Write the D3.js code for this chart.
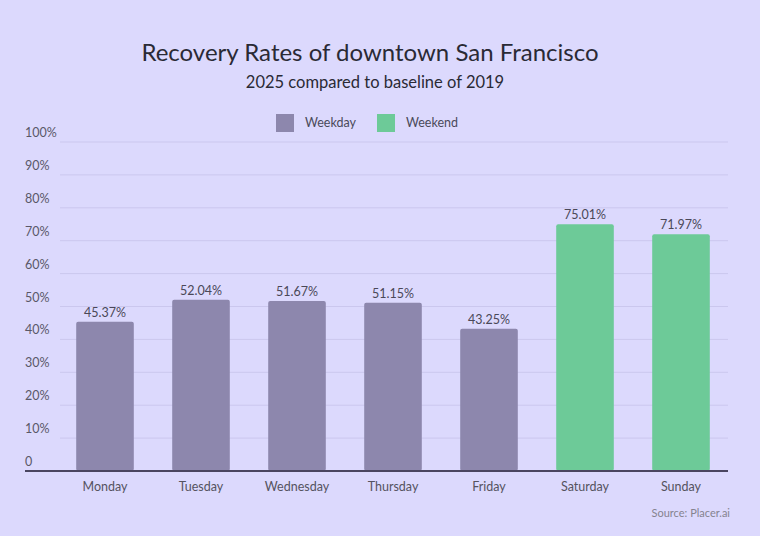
<!DOCTYPE html>
<html>
<head>
<meta charset="utf-8">
<script src="https://cdn.jsdelivr.net/npm/d3@7"></script>
<style>
  body { margin: 0; background: #dcd9fd; }
  text { font-family: Lato, "Open Sans", sans-serif; }
</style>
</head>
<body>
<div class="canvas"></div>
<script>
// data
const days = ["Monday", "Tuesday", "Wednesday", "Thursday", "Friday", "Saturday", "Sunday"];
const rates = [45.37, 52.04, 51.67, 51.15, 43.25, 75.01, 71.97];
const dayType = ["Weekday", "Weekday", "Weekday", "Weekday", "Weekday", "Weekend", "Weekend"];
const legendKeys = ["Weekday", "Weekend"];
const yTicks = [0, 10, 20, 30, 40, 50, 60, 70, 80, 90, 100];

const colors = { "Weekday": "#8d87ad", "Weekend": "#6dca98" };

var svg = d3.select(".canvas").append("svg").attr("width", 760).attr("height", 536);

svg.append("rect").attr("width", 760).attr("height", 536).attr("fill", "#dcd9fd");

const x = d3.scaleBand().domain(days).range([57, 729]).paddingInner(0.4).paddingOuter(0.2);
const y = d3.scaleLinear().domain([0, 100]).range([471, 142]);

// title
svg.append("text")
    .attr("x", 370).attr("y", 61)
    .attr("text-anchor", "middle")
    .attr("font-size", "24px")
    .attr("fill", "#2a2a35")
    .text("Recovery Rates of downtown San Francisco");

svg.append("text")
    .attr("x", 375).attr("y", 88)
    .attr("text-anchor", "middle")
    .attr("font-size", "16.5px")
    .attr("fill", "#2a2a35")
    .text("2025 compared to baseline of 2019");

// legend
const legend = svg.selectAll(".legend").data(legendKeys).enter().append("g")
    .attr("transform", (d, i) => "translate(" + (276 + i * 101) + ",114)");
legend.append("rect").attr("width", 18).attr("height", 18).attr("fill", d => colors[d]);
legend.append("text")
    .attr("x", 29).attr("y", 13)
    .attr("font-size", "12.5px")
    .attr("fill", "#4a4a5a")
    .text(d => d);

// gridlines + tick labels
svg.selectAll(".grid").data(yTicks.filter(d => d > 0)).enter().append("line")
    .attr("x1", 60).attr("x2", 728)
    .attr("y1", d => y(d)).attr("y2", d => y(d))
    .attr("stroke", "#cbc7ee").attr("stroke-width", 1);

svg.selectAll(".ytick").data(yTicks).enter().append("text")
    .attr("x", 25).attr("y", d => y(d) - 5)
    .attr("font-size", "12.5px")
    .attr("fill", "#5a5868")
    .text(d => d === 0 ? "0" : d + "%");

// bars
svg.selectAll(".bar").data(days).enter().append("rect")
    .attr("x", d => x(d))
    .attr("y", (d, i) => y(rates[i]))
    .attr("width", x.bandwidth())
    .attr("height", (d, i) => y(0) - y(rates[i]))
    .attr("rx", 2)
    .attr("fill", (d, i) => colors[dayType[i]]);

svg.selectAll(".val").data(days).enter().append("text")
    .attr("x", d => x(d) + x.bandwidth() / 2)
    .attr("y", (d, i) => y(rates[i]) - 5)
    .attr("text-anchor", "middle")
    .attr("font-size", "12.5px")
    .attr("fill", "#4a4858")
    .text((d, i) => rates[i].toFixed(2) + "%");

// baseline
svg.append("line")
    .attr("x1", 25).attr("x2", 728)
    .attr("y1", y(0)).attr("y2", y(0))
    .attr("stroke", "#4a4560").attr("stroke-width", 2);

// x axis labels
svg.selectAll(".xlab").data(days).enter().append("text")
    .attr("x", d => x(d) + x.bandwidth() / 2)
    .attr("y", 491)
    .attr("text-anchor", "middle")
    .attr("font-size", "12.5px")
    .attr("fill", "#55535f")
    .text(d => d);

svg.append("text")
    .attr("x", 730).attr("y", 517)
    .attr("text-anchor", "end")
    .attr("font-size", "11px")
    .attr("fill", "#85838f")
    .text("Source: Placer.ai");
</script>
</body>
</html>
